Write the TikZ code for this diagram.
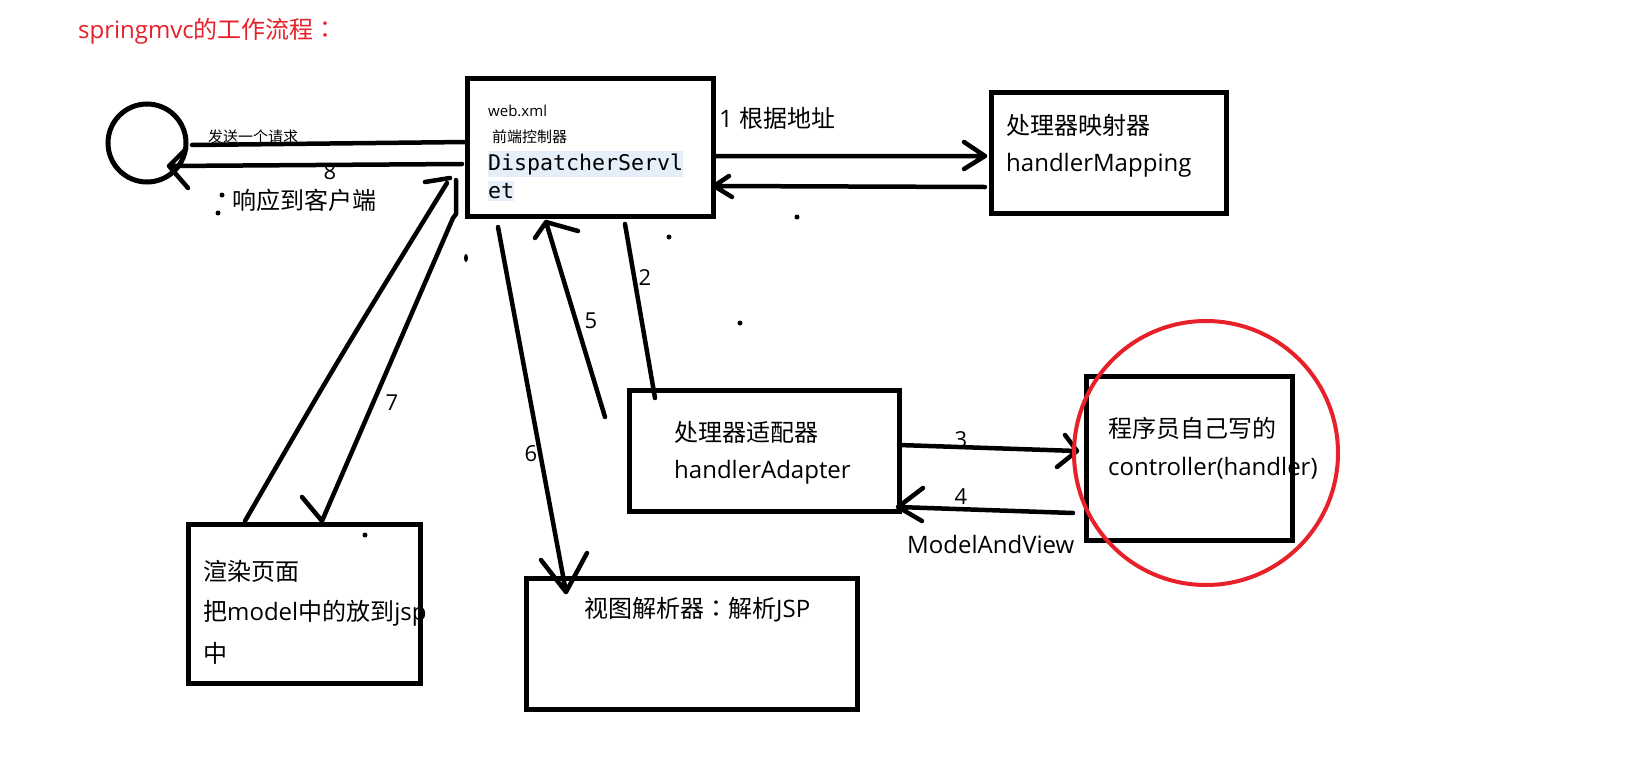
\documentclass[tikz,border=0pt]{standalone}
\usepackage{fontspec}
\setmainfont{Open Sans}
\newfontfamily\cjk{Noto Sans CJK SC}
\newfontfamily\cjktc{Noto Sans CJK TC}
\newfontfamily\monof{DejaVu Sans Mono}
\usetikzlibrary{shapes.geometric}
\definecolor{hlblue}{RGB}{229,239,250}
\definecolor{paintred}{RGB}{232,32,42}
\newcommand\fbig{\fontsize{24}{28}\selectfont}
\newcommand\fsmall{\fontsize{15}{18}\selectfont}
\newcommand\fnum{\fontsize{22}{26}\selectfont}
\newcommand\fmono{\fontsize{21.6}{26}\selectfont\monof}
\tikzset{
  box/.style={draw, line width=5pt, inner sep=0pt},
  conn/.style={line width=4.5pt, line cap=round, line join=round},
  lbl/.style={inner sep=0pt, anchor=west},
  num/.style={inner sep=0pt, font=\fnum},
  speck/.style={fill, circle, inner sep=0pt, minimum size=5pt}
}
\begin{document}
\begin{tikzpicture}[x=1pt, y=-1pt]
\useasboundingbox (0,0) rectangle (1634,782);
\fill[white] (0,0) rectangle (1634,782);

% boxes
\node[box, minimum width=246pt, minimum height=138pt] (ds) at (590,147) {};
\node[box, minimum width=235pt, minimum height=121pt] (hm) at (1108.5,152.5) {};
\node[box, minimum width=270pt, minimum height=121pt] (ha) at (764,450.5) {};
\node[box, minimum width=206pt, minimum height=164pt] (ct) at (1189,458) {};
\node[box, minimum width=232pt, minimum height=159pt] (rd) at (304,603.5) {};
\node[box, minimum width=331pt, minimum height=131pt] (vr) at (691.5,643.5) {};
\node[draw, circle, line width=5pt, minimum size=78pt, inner sep=0pt] (client) at (147,143) {};

% connector end points
\coordinate (sendS) at (192,145);
\coordinate (sendE) at (467,142);
\coordinate (r8S) at (462,164);
\coordinate (r8T) at (169,166);
\coordinate (a1S) at (714,156);
\coordinate (a1T) at (985,156);
\coordinate (bkS) at (985,187);
\coordinate (bkT) at (714,186);
\coordinate (a2S) at (625,224);
\coordinate (a2E) at (655,398);
\coordinate (a5S) at (605,417);
\coordinate (a5T) at (546,222);
\coordinate (a6S) at (498,227);
\coordinate (a6T) at (566,592);
\coordinate (a7S) at (456,180);
\coordinate (a7K) at (456,214);
\coordinate (a7T) at (322,521);
\coordinate (upS) at (245,521);
\coordinate (upE) at (447,183);
\coordinate (a3S) at (899,445);
\coordinate (a3T) at (1077,451);
\coordinate (a4S) at (1073,513);
\coordinate (a4T) at (898,507);

% connectors
\draw[conn] (sendS) -- (sendE);
\draw[conn] (r8S) -- (r8T) ++(17,-17) -- (r8T) -- ++(19,22);
\draw[conn] (a1S) -- (a1T) ++(-21,-14) -- (a1T) -- ++(-21,13);
\draw[conn] (bkS) -- (bkT) ++(15,-10) -- (bkT) -- ++(18,11);
\draw[conn] (a2S) -- (a2E);
\draw[conn] (a5S) -- (a5T) ++(-11,16) -- (a5T) -- ++(32,9);
\draw[conn] (a6S) -- (a6T) ++(-25,-32) -- (a6T) -- ++(21,-39);
\draw[conn] (a7S) -- (a7K) -- ++(-3,4) -- (a7T) ++(-20,-24) -- (a7T);
\draw[conn] (upS) .. controls (335,365) .. (upE);
\draw[conn] (425,182) -- (450,178);
\draw[conn] (a3S) -- (a3T) ++(-12,-16) -- (a3T) -- ++(-20,16);
\draw[conn] (a4S) -- (a4T) ++(25,-19) -- (a4T) -- ++(24,14);

% specks
\node[speck] (d1) at (797,217) {};
\node[speck] (d2) at (669,237) {};
\node[speck] (d3) at (740,323) {};
\node[fill, ellipse, inner sep=0pt, minimum width=4pt, minimum height=8pt] (d4) at (466,258) {};
\node[speck] (d5) at (365,535) {};
\node[speck] (d6) at (218,213) {};
\node[speck] (d7) at (222,195) {};

% texts
\node[lbl, text=paintred, font=\fbig] (title) at (78,31) {springmvc{\cjk 的工作流程}{\cjktc ：}};
\node[lbl, font=\fsmall\cjk] (tsend) at (208,137) {发送一个请求};
\node[num] (n8) at (330,172) {8};
\node[lbl, font=\fbig\cjk] (tresp) at (232,200) {响应到客户端};
\node[lbl, font=\fsmall] (tweb) at (488,111) {web.xml};
\node[lbl, font=\fsmall\cjk] (tfront) at (492,137) {前端控制器};
\node[lbl, font=\fmono, fill=hlblue, inner ysep=2pt] (tds1) at (488,164) {DispatcherServl};
\node[lbl, font=\fmono, fill=hlblue, inner ysep=2pt] (tds2) at (488,191) {et};
\node[lbl, font=\fbig] (t1) at (719,118) {1 {\cjk 根据地址}};
\node[lbl, font=\fbig\cjk] (thm1) at (1006,125) {处理器映射器};
\node[lbl, font=\fbig] (thm2) at (1006,165) {handlerMapping};
\node[lbl, font=\fbig\cjk] (tha1) at (674,432) {处理器适配器};
\node[lbl, font=\fbig] (tha2) at (674,472) {handlerAdapter};
\node[lbl, font=\fbig\cjk] (tct1) at (1108,428) {程序员自己写的};
\node[lbl, font=\fbig] (tct2) at (1108,468) {controller(handler)};
\node[num] (n3) at (961,440) {3};
\node[num] (n4) at (961,497) {4};
\node[lbl, font=\fbig] (tmav) at (907,544) {ModelAndView};
\node[num] (n2) at (645,278) {2};
\node[num] (n5) at (591,321) {5};
\node[num] (n6) at (531,454) {6};
\node[num] (n7) at (392,403) {7};
\node[lbl, font=\fbig\cjk] (trd1) at (203,571) {渲染页面};
\node[lbl, font=\fbig] (trd2) at (203,613) {{\cjk 把}model{\cjk 中的放到}jsp};
\node[lbl, font=\fbig\cjk] (trd3) at (203,653) {中};
\node[lbl, font=\fbig] (tvr) at (584,610) {{\cjk 视图解析器}{\cjktc ：}{\cjk 解析}JSP};

% highlight circle
\node[draw=paintred, circle, line width=4pt, minimum size=264pt, inner sep=0pt] (focus) at (1206,453) {};
\end{tikzpicture}
\end{document}
